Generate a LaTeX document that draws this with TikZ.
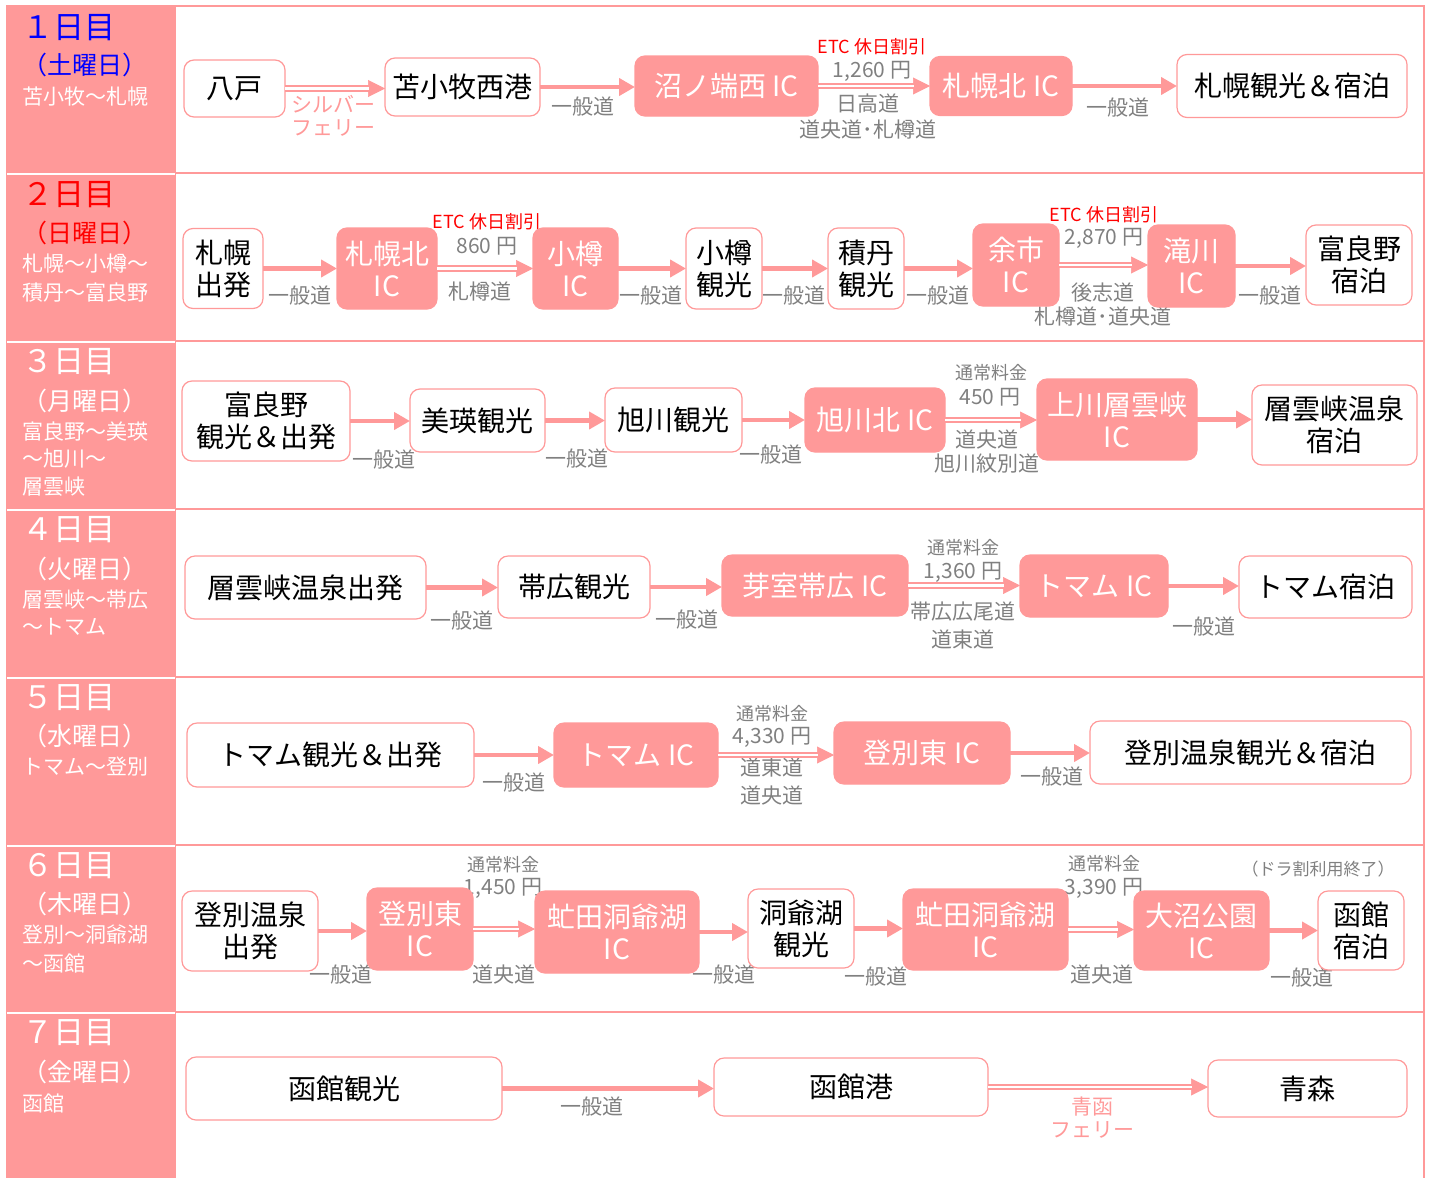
\documentclass[tikz,border=0pt]{standalone}
\usepackage{fontspec}
\setmainfont{Noto Sans CJK JP}
\usetikzlibrary{arrows.meta}
\definecolor{pk}{RGB}{255,153,153}
\definecolor{gy}{RGB}{128,128,128}
\definecolor{dayblue}{RGB}{0,0,255}
\definecolor{dayred}{RGB}{255,0,0}
\newcommand{\myfs}[2]{\fontsize{#1}{#2}\selectfont}
\newcommand{\myS}[2]{\draw[rd] (#1.east) -- (#1.east -| #2.west);}
\newcommand{\myD}[2]{\draw[tipline] (#1.east) -- (#1.east -| #2.west);\draw[hw] (#1.east) -- (#1.east -| #2.west);}
\tikzset{
  every node/.style={inner sep=0pt, outer sep=0pt},
  wbox/.style={draw=pk, line width=1.2pt, fill=white, rounded corners=10pt, text=black, align=center, font=\myfs{28pt}{32pt}},
  pbox/.style={draw=pk, line width=1.2pt, fill=pk, rounded corners=10pt, text=white, align=center, font=\myfs{28pt}{32pt}},
  gl/.style={text=gy, font=\myfs{21pt}{24pt}},
  ml/.style={text=gy, font=\myfs{18pt}{22pt}},
  etc/.style={text=dayred, font=\myfs{18pt}{22pt}},
  ferry/.style={text=pk, font=\myfs{21pt}{24pt}},
  dayl/.style={anchor=west, font=\myfs{31pt}{34pt}},
  wkd/.style={anchor=west, font=\myfs{25pt}{28pt}},
  rte/.style={anchor=west, font=\myfs{21pt}{24pt}, text=white},
  rd/.style={draw=pk, line width=4.2pt, -{Triangle[length=16pt, width=17pt]}},
  tipline/.style={draw=pk, line width=0.6pt, -{Triangle[length=17pt, width=17pt]}},
  hw/.style={draw=pk, line width=1.8pt, double=white, double distance=2.6pt, shorten >=16.5pt},
}
\begin{document}
\begin{tikzpicture}[x=1pt,y=-1pt]
\useasboundingbox (0,0) rectangle (1431,1178);
% frame
\fill[pk] (6,5) rectangle (176,1178);
\foreach \yy in {6,173,341,509,677,845,1012} \draw[pk, line width=2pt] (176,\yy) -- (1425,\yy);
\foreach \yy in {174,342,510,678,846,1013} \draw[white, line width=2pt] (7,\yy) -- (175,\yy);
\draw[pk, line width=2pt] (1424,5) -- (1424,1178);

% left headers
\node[dayl, text=dayblue] (h1a) at (22,28) {１日目};
\node[wkd, text=dayblue] (h1b) at (22,65) {（土曜日）};
\node[rte] (h1c) at (22,97) {苫小牧～札幌};

\node[dayl, text=dayred] (h2a) at (22,195) {２日目};
\node[wkd, text=dayred] (h2b) at (22,233) {（日曜日）};
\node[rte] (h2c) at (22,264) {札幌～小樽～};
\node[rte] (h2d) at (22,293) {積丹～富良野};

\node[dayl, text=white] (h3a) at (22,362) {３日目};
\node[wkd, text=white] (h3b) at (22,401) {（月曜日）};
\node[rte] (h3c) at (22,432) {富良野～美瑛};
\node[rte] (h3d) at (22,459) {～旭川～};
\node[rte] (h3e) at (22,487) {層雲峡};

\node[dayl, text=white] (h4a) at (22,530) {４日目};
\node[wkd, text=white] (h4b) at (22,569) {（火曜日）};
\node[rte] (h4c) at (22,600) {層雲峡～帯広};
\node[rte] (h4d) at (22,627) {～トマム};

\node[dayl, text=white] (h5a) at (22,698) {５日目};
\node[wkd, text=white] (h5b) at (22,736) {（水曜日）};
\node[rte] (h5c) at (22,767) {トマム～登別};

\node[dayl, text=white] (h6a) at (22,866) {６日目};
\node[wkd, text=white] (h6b) at (22,904) {（木曜日）};
\node[rte] (h6c) at (22,935) {登別～洞爺湖};
\node[rte] (h6d) at (22,963) {～函館};

\node[dayl, text=white] (h7a) at (22,1033) {７日目};
\node[wkd, text=white] (h7b) at (22,1072) {（金曜日）};
\node[rte] (h7c) at (22,1103) {函館};

% labels
\node[ferry] (l11a) at (333,104) {シルバー};
\node[ferry] (l11b) at (333,128) {フェリー};
\node[gl] (l12) at (583,107) {一般道};
\node[etc] (l13) at (872,47) {ETC 休日割引};
\node[gl] (l14) at (872,71) {1,260 円};
\node[gl] (l15a) at (868,104) {日高道};
\node[gl] (l15b) at (868,130) {道央道･札樽道};
\node[gl] (l16) at (1118,108) {一般道};

\node[gl] (l21) at (300,296) {一般道};
\node[etc] (l22) at (487,222) {ETC 休日割引};
\node[gl] (l23) at (487,246) {860 円};
\node[gl] (l24) at (480,292) {札樽道};
\node[gl] (l25) at (651,296) {一般道};
\node[gl] (l26) at (794,296) {一般道};
\node[gl] (l27) at (938,296) {一般道};
\node[etc] (l28) at (1104,215) {ETC 休日割引};
\node[gl] (l29) at (1104,238) {2,870 円};
\node[gl] (l2a) at (1103,293) {後志道};
\node[gl] (l2b) at (1103,317) {札樽道･道央道};
\node[gl] (l2c) at (1270,296) {一般道};

\node[gl] (l31) at (384,460) {一般道};
\node[gl] (l32) at (577,459) {一般道};
\node[gl] (l33) at (771,455) {一般道};
\node[ml] (l34) at (991,373) {通常料金};
\node[gl] (l35) at (990,397) {450 円};
\node[gl] (l36) at (987,440) {道央道};
\node[gl] (l37) at (987,464) {旭川紋別道};

\node[gl] (l41) at (462,621) {一般道};
\node[gl] (l42) at (687,620) {一般道};
\node[ml] (l43) at (963,548) {通常料金};
\node[gl] (l44) at (963,572) {1,360 円};
\node[gl] (l45) at (963,612) {帯広広尾道};
\node[gl] (l46) at (963,640) {道東道};
\node[gl] (l47) at (1204,627) {一般道};

\node[gl] (l51) at (514,783) {一般道};
\node[ml] (l52) at (772,714) {通常料金};
\node[gl] (l53) at (772,737) {4,330 円};
\node[gl] (l54) at (772,768) {道東道};
\node[gl] (l55) at (772,796) {道央道};
\node[gl] (l56) at (1052,777) {一般道};

\node[gl] (l61) at (341,975) {一般道};
\node[ml] (l62) at (503,865) {通常料金};
\node[gl] (l63) at (503,888) {1,450 円};
\node[gl] (l64) at (504,975) {道央道};
\node[gl] (l65) at (724,975) {一般道};
\node[gl] (l66) at (876,977) {一般道};
\node[ml] (l67) at (1104,864) {通常料金};
\node[gl] (l68) at (1104,888) {3,390 円};
\node[gl] (l69) at (1102,975) {道央道};
\node[gl] (l6a) at (1302,978) {一般道};
\node[ml, font=\myfs{17pt}{20pt}] (l6b) at (1318,869) {（ドラ割利用終了）};

\node[gl] (l71) at (592,1107) {一般道};
\node[ferry] (l72) at (1092,1107) {青函};
\node[ferry] (l73) at (1092,1130) {フェリー};

% boxes row 1
\node[wbox, minimum width=101pt, minimum height=57pt] (n11) at (234.5,88.5) {八戸};
\node[wbox, minimum width=155pt, minimum height=58pt] (n12) at (462.5,87) {苫小牧西港};
\node[pbox, minimum width=183pt, minimum height=60pt] (n13) at (726.5,86) {沼ノ端西 IC};
\node[pbox, minimum width=142pt, minimum height=59pt] (n14) at (1001,86) {札幌北 IC};
\node[wbox, minimum width=230pt, minimum height=63pt] (n15) at (1292,86) {札幌観光＆宿泊};
% row 2
\node[wbox, minimum width=80pt, minimum height=80pt] (n21) at (223,268.5) {札幌\\出発};
\node[pbox, minimum width=100pt, minimum height=81pt] (n22) at (387,268.5) {札幌北\\IC};
\node[pbox, minimum width=85pt, minimum height=81pt] (n23) at (575.5,268.5) {小樽\\IC};
\node[wbox, minimum width=76pt, minimum height=81pt] (n24) at (724,268.5) {小樽\\観光};
\node[wbox, minimum width=76pt, minimum height=81pt] (n25) at (866,268.5) {積丹\\観光};
\node[pbox, minimum width=86pt, minimum height=82pt] (n26) at (1016,265) {余市\\IC};
\node[pbox, minimum width=87pt, minimum height=82pt] (n27) at (1191.5,266) {滝川\\IC};
\node[wbox, minimum width=106pt, minimum height=80pt] (n28) at (1359,265) {富良野\\宿泊};
% row 3
\node[wbox, minimum width=168pt, minimum height=80pt] (n31) at (266,421) {富良野\\観光＆出発};
\node[wbox, minimum width=135pt, minimum height=63pt] (n32) at (477.5,420.5) {美瑛観光};
\node[wbox, minimum width=137pt, minimum height=64pt] (n33) at (673.5,420) {旭川観光};
\node[pbox, minimum width=140pt, minimum height=64pt] (n34) at (875,420) {旭川北 IC};
\node[pbox, minimum width=160pt, minimum height=81pt] (n35) at (1117,419.5) {上川層雲峡\\IC};
\node[wbox, minimum width=165pt, minimum height=80pt] (n36) at (1334.5,425) {層雲峡温泉\\宿泊};
% row 4
\node[wbox, minimum width=241pt, minimum height=63pt] (n41) at (305.5,587.5) {層雲峡温泉出発};
\node[wbox, minimum width=152pt, minimum height=62pt] (n42) at (574,587) {帯広観光};
\node[pbox, minimum width=186pt, minimum height=61pt] (n43) at (815,585.5) {芽室帯広 IC};
\node[pbox, minimum width=148pt, minimum height=62pt] (n44) at (1094,586) {トマム IC};
\node[wbox, minimum width=173pt, minimum height=62pt] (n45) at (1325.5,587) {トマム宿泊};
% row 5
\node[wbox, minimum width=287pt, minimum height=64pt] (n51) at (330.5,755) {トマム観光＆出発};
\node[pbox, minimum width=164pt, minimum height=64pt] (n52) at (636,755) {トマム IC};
\node[pbox, minimum width=176pt, minimum height=62pt] (n53) at (922,753) {登別東 IC};
\node[wbox, minimum width=321pt, minimum height=63pt] (n54) at (1250.5,752.5) {登別温泉観光＆宿泊};
% row 6
\node[wbox, minimum width=136pt, minimum height=80pt] (n61) at (250,931) {登別温泉\\出発};
\node[pbox, minimum width=106pt, minimum height=82pt] (n62) at (420,929) {登別東\\IC};
\node[pbox, minimum width=164pt, minimum height=82pt] (n63) at (617,932) {虻田洞爺湖\\IC};
\node[wbox, minimum width=106pt, minimum height=79pt] (n64) at (801,928.5) {洞爺湖\\観光};
\node[pbox, minimum width=165pt, minimum height=81pt] (n65) at (985.5,929.5) {虻田洞爺湖\\IC};
\node[pbox, minimum width=135pt, minimum height=79pt] (n66) at (1201.5,930.5) {大沼公園\\IC};
\node[wbox, minimum width=86pt, minimum height=79pt] (n67) at (1361,930.5) {函館\\宿泊};
% row 7
\node[wbox, minimum width=316pt, minimum height=63pt] (n71) at (344,1088.5) {函館観光};
\node[wbox, minimum width=274pt, minimum height=58pt] (n72) at (851,1087) {函館港};
\node[wbox, minimum width=199pt, minimum height=57pt] (n73) at (1307.5,1088.5) {青森};

% connectors
\myD{n11}{n12} \myS{n12}{n13} \myD{n13}{n14} \myS{n14}{n15}
\myS{n21}{n22} \myD{n22}{n23} \myS{n23}{n24} \myS{n24}{n25} \myS{n25}{n26} \myD{n26}{n27} \myS{n27}{n28}
\myS{n31}{n32} \myS{n32}{n33} \myS{n33}{n34} \myD{n34}{n35} \myS{n35}{n36}
\myS{n41}{n42} \myS{n42}{n43} \myD{n43}{n44} \myS{n44}{n45}
\myS{n51}{n52} \myD{n52}{n53} \myS{n53}{n54}
\myS{n61}{n62} \myD{n62}{n63} \myS{n63}{n64} \myS{n64}{n65} \myD{n65}{n66} \myS{n66}{n67}
\myS{n71}{n72} \myD{n72}{n73}
\end{tikzpicture}
\end{document}
